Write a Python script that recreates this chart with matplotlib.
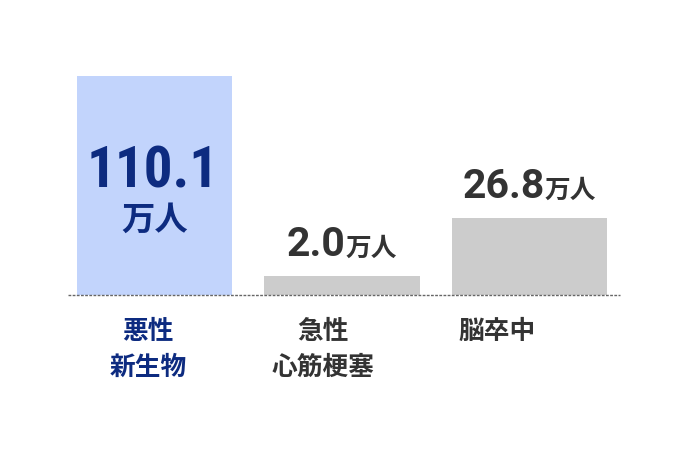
import matplotlib.pyplot as plt
from matplotlib.transforms import offset_copy

plt.rcParams['font.family'] = ['Roboto', 'Noto Sans CJK JP', 'DejaVu Sans']

categories = ['悪性\n新生物', '急性\n心筋梗塞', '脳卒中']
values = [110.1, 2.0, 26.8]
value_labels = ['110.1', '2.0', '26.8']
unit = '万人'
# bar heights as drawn in the picture (not proportional to the values)
bar_heights = [110.1, 9.6, 38.7]
bar_colors = ['#c2d4fc', '#cccccc', '#cccccc']
text_colors = ['#0d2b80', '#333333', '#333333']

fig = plt.figure(figsize=(6.9, 4.6), dpi=100)
ax = fig.add_axes([68 / 690, 164 / 460, 552 / 690, 296 / 460])

x = [0, 1, 2]
ax.bar(x, bar_heights, width=0.827, color=bar_colors, zorder=2)
ax.set_xlim(-0.4613, 2.4827)
ax.set_ylim(0, 110.1 * 296 / 219)
ax.axhline(0, color='#666666', lw=1.0, ls=(0, (2.0, 1.0)), zorder=3, clip_on=False)
ax.axis('off')

fig.canvas.draw()
r = fig.canvas.get_renderer()

# first bar: label inside the bar, stacked
ax.text(0, bar_heights[0], value_labels[0], ha='center', va='baseline',
        fontsize=41, fontweight='bold', color=text_colors[0],
        family=['Roboto Condensed', 'Roboto', 'DejaVu Sans'],
        transform=offset_copy(ax.transData, fig=fig, x=-2, y=-111, units='dots'))
ax.text(0, bar_heights[0], unit, ha='center', va='baseline',
        fontsize=24, fontweight='bold', color=text_colors[0],
        transform=offset_copy(ax.transData, fig=fig, x=0, y=-153, units='dots'))

# other bars: number + unit above the bar
for i in [1, 2]:
    t1 = ax.text(i, bar_heights[i], value_labels[i], ha='left', va='baseline',
                 fontsize=29.5, fontweight='bold', color=text_colors[i])
    t2 = ax.text(i, bar_heights[i], unit, ha='left', va='baseline',
                 fontsize=18.5, fontweight='bold', color=text_colors[i])
    w1 = t1.get_window_extent(r).width
    w2 = t2.get_window_extent(r).width
    gap = 0
    start = -(w1 + gap + w2) / 2
    t1.set_transform(offset_copy(ax.transData, fig=fig, x=start, y=21, units='dots'))
    t2.set_transform(offset_copy(ax.transData, fig=fig, x=start + w1 + gap, y=21, units='dots'))

# category labels
label_x = [-0.035, 0.899, 1.827]
for i, lab in enumerate(categories):
    ax.text(label_x[i], 0, lab, ha='center', va='top', fontsize=18.5,
            fontweight='bold', color=text_colors[i], linespacing=1.6,
            transform=offset_copy(ax.transData, fig=fig, x=0, y=-24, units='dots'))

fig.savefig('out.png', dpi=100)
